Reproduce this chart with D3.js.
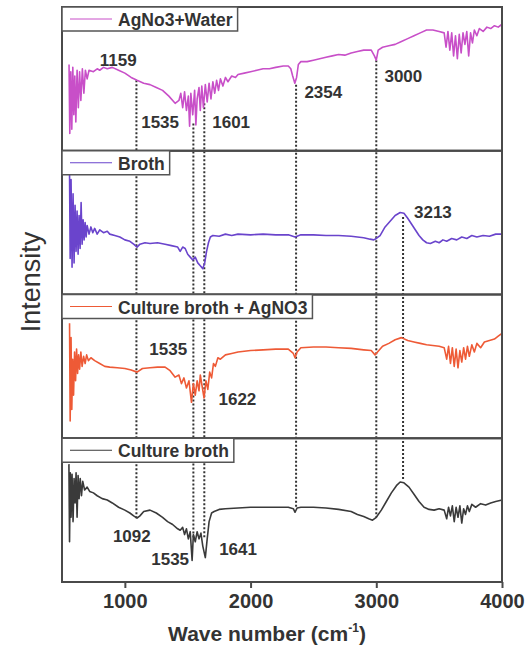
<!DOCTYPE html>
<html>
<head>
<meta charset="utf-8">
<script src="https://cdn.jsdelivr.net/npm/d3@7"></script>
<style>
  body { margin: 0; background: #fff; }
  text { font-family: Arial, "Liberation Sans", sans-serif; }
</style>
</head>
<body>
<script>
// spectra: [wave number, intensity (0-100 inside its own panel)]
const agWater = [
  [556, 60], [562, 12], [570, 55], [578, 15], [586, 58], [594, 25], [602, 52], [610, 20],
  [620, 56], [630, 30], [640, 55], [650, 35], [662, 57], [674, 40], [686, 56], [700, 50],
  [715, 56], [750, 55], [780, 57], [800, 56], [830, 58], [860, 57], [900, 58], [950, 56],
  [1000, 54], [1050, 51], [1097, 49], [1150, 47], [1200, 46], [1250, 44], [1300, 42],
  [1350, 38], [1400, 33], [1430, 35], [1445, 40], [1460, 30], [1475, 41], [1490, 28],
  [1505, 38], [1515, 17], [1525, 40], [1540, 25], [1555, 42], [1565, 18], [1575, 36],
  [1590, 44], [1600, 28], [1612, 45], [1625, 30], [1640, 46], [1655, 34], [1670, 47],
  [1685, 36], [1700, 48], [1715, 40], [1730, 49], [1745, 42], [1760, 50], [1780, 45],
  [1800, 51], [1820, 48], [1850, 52], [1880, 51], [1900, 53], [1950, 54], [2000, 55],
  [2050, 56], [2100, 57], [2150, 57], [2200, 58], [2260, 59], [2300, 59], [2320, 57],
  [2335, 52], [2352, 47], [2366, 51], [2380, 60], [2400, 62], [2450, 62], [2500, 63],
  [2550, 64], [2600, 65], [2650, 66], [2700, 67], [2750, 66.5], [2800, 68], [2850, 69],
  [2900, 70], [2960, 70], [2985, 66], [3000, 63], [3015, 70], [3050, 72], [3100, 73],
  [3150, 74], [3200, 76], [3250, 78], [3300, 80], [3350, 82], [3400, 84], [3450, 84],
  [3500, 83], [3540, 82], [3555, 72], [3570, 83], [3585, 70], [3600, 82], [3615, 66],
  [3630, 80], [3645, 64], [3660, 81], [3675, 68], [3690, 82], [3705, 74], [3720, 83],
  [3735, 66], [3750, 82], [3765, 75], [3780, 84], [3800, 80], [3820, 85], [3850, 83],
  [3880, 86], [3910, 85], [3940, 87], [3970, 86], [4000, 88]
];

const broth = [
  [560, 84], [565, 25], [572, 80], [580, 19], [588, 70], [596, 22], [604, 62], [612, 30],
  [620, 58], [628, 28], [636, 55], [644, 32], [652, 64], [660, 35], [668, 52], [676, 38],
  [684, 50], [692, 40], [700, 48], [715, 42], [730, 47], [745, 43], [760, 46], [780, 42],
  [800, 45], [830, 43], [860, 44], [880, 42], [920, 41], [960, 40], [1000, 38], [1040, 37],
  [1070, 35], [1097, 33], [1120, 35], [1160, 36], [1200, 35.5], [1260, 36], [1320, 35],
  [1370, 34], [1420, 33], [1440, 30], [1460, 33], [1480, 32], [1500, 28], [1520, 26],
  [1540, 24], [1560, 26], [1580, 22], [1600, 20], [1620, 18], [1635, 22], [1650, 30],
  [1665, 36], [1680, 40], [1700, 41], [1750, 40.5], [1800, 42], [1850, 41], [1900, 42],
  [2000, 41.5], [2100, 42], [2200, 41.5], [2300, 41.5], [2354, 40], [2400, 41.5],
  [2500, 41.5], [2600, 41], [2700, 41], [2800, 40.5], [2900, 39.5], [2950, 38.5],
  [2980, 38], [3000, 39], [3030, 41], [3070, 47], [3110, 51], [3150, 55], [3190, 57],
  [3220, 56.5], [3250, 53], [3280, 49], [3310, 45], [3340, 41], [3370, 38], [3400, 36],
  [3430, 35.5], [3470, 37], [3500, 36], [3530, 38], [3560, 37], [3600, 39], [3640, 38],
  [3680, 40], [3720, 39], [3760, 41], [3800, 40], [3850, 41], [3900, 40.5], [3950, 42],
  [4000, 42]
];

const cultureAg = [
  [560, 80], [565, 12], [572, 70], [578, 20], [585, 55], [592, 30], [600, 60], [608, 40],
  [616, 62], [624, 45], [632, 58], [640, 48], [650, 60], [660, 50], [672, 57], [684, 52],
  [696, 58], [710, 54], [730, 56], [760, 54], [800, 52], [840, 50], [880, 49.5], [940, 49],
  [1000, 48.5], [1050, 47.5], [1097, 46], [1140, 48.5], [1200, 49], [1260, 49.5],
  [1320, 49.5], [1360, 47], [1400, 42.5], [1430, 44], [1450, 38], [1470, 42], [1490, 35],
  [1510, 40], [1530, 25], [1545, 38], [1560, 30], [1575, 40], [1590, 33], [1600, 44],
  [1615, 36], [1630, 28], [1645, 40], [1660, 34], [1675, 46], [1690, 42], [1705, 52],
  [1720, 50], [1740, 56], [1760, 55], [1800, 58], [1850, 59], [1900, 60], [2000, 61],
  [2100, 61.5], [2200, 62], [2300, 62], [2340, 59], [2354, 56], [2370, 60], [2400, 63],
  [2500, 63.5], [2600, 63.5], [2700, 63], [2800, 62.5], [2900, 61.5], [2960, 61],
  [2990, 58], [3010, 60], [3050, 64], [3100, 66], [3150, 68.5], [3200, 70], [3250, 68],
  [3300, 67], [3350, 66], [3400, 65], [3450, 64.5], [3500, 64], [3540, 63], [3560, 55],
  [3575, 64], [3590, 52], [3605, 63], [3620, 50], [3635, 62], [3650, 49], [3665, 61],
  [3680, 53], [3695, 63], [3710, 55], [3725, 64], [3740, 57], [3760, 65], [3780, 60],
  [3800, 66], [3830, 63], [3860, 67], [3900, 68], [3940, 69], [3970, 71], [4000, 73]
];

const culture = [
  [555, 82], [560, 28], [566, 76], [572, 45], [580, 75], [588, 42], [596, 72], [604, 55],
  [612, 76], [620, 45], [628, 74], [636, 58], [645, 72], [655, 60], [665, 70], [680, 64],
  [700, 66], [720, 63], [750, 62], [780, 60], [820, 58], [860, 57], [900, 55], [950, 52],
  [1000, 50], [1040, 48], [1070, 46], [1097, 44.5], [1120, 46], [1150, 49], [1200, 50],
  [1250, 48], [1300, 45], [1340, 42], [1380, 40], [1420, 37], [1440, 36], [1460, 38],
  [1475, 33], [1490, 37], [1505, 30], [1520, 35], [1535, 15], [1545, 33], [1560, 28],
  [1575, 35], [1590, 30], [1605, 34], [1620, 25], [1640, 17], [1655, 30], [1670, 42],
  [1690, 48], [1710, 49], [1750, 50.5], [1800, 51], [1900, 51.5], [2000, 52], [2100, 52],
  [2200, 52], [2300, 52], [2340, 51], [2354, 48.5], [2370, 51.5], [2400, 52], [2500, 52],
  [2600, 51.5], [2700, 50.5], [2800, 49], [2850, 47], [2900, 45.5], [2940, 44], [2970, 43],
  [3000, 45], [3040, 50], [3080, 56], [3120, 62], [3160, 67], [3190, 69.6], [3220, 69],
  [3260, 66], [3300, 61], [3340, 56], [3380, 52], [3420, 50.5], [3460, 50], [3500, 51],
  [3540, 50], [3560, 44], [3575, 52], [3590, 46], [3605, 53], [3620, 42], [3635, 52],
  [3650, 45], [3665, 53], [3680, 41], [3695, 51], [3710, 47], [3725, 53], [3740, 49],
  [3760, 54], [3790, 52], [3830, 54.5], [3870, 53.5], [3910, 55], [3950, 56], [4000, 57]
];

const seriesNames = ['AgNo3+Water', 'Broth', 'Culture broth + AgNO3', 'Culture broth'];
const seriesData = [agWater, broth, cultureAg, culture];
const seriesColors = ['#c84fc8', '#6a44cc', '#ee5a36', '#3a3a3a'];
const xTicks = [1000, 2000, 3000, 4000];

// dotted guide lines: wave number, [panel, value] at top, [panel, value] at bottom
const guideWave = [1092, 1545, 1632, 2362, 3000, 3213];
const guideTop = [[0, 49], [0, 19], [0, 33], [0, 46], [0, 63], [1, 54]];
const guideBottom = [[3, 43], [3, 31], [3, 31], [3, 51.5], [3, 45], [3, 71]];

// peak labels: panel, text, wave number of left edge, value of baseline
const peakPanel = [0, 0, 0, 0, 0, 1, 2, 2, 3, 3, 3];
const peakText = ['1159', '1535', '1601', '2354', '3000', '3213', '1535', '1622', '1092', '1535', '1641'];
const peakWave = [800, 1130, 1695, 2428, 3065, 3300, 1195, 1745, 905, 1210, 1750];
const peakValue = [59, 15.5, 16, 37, 48, 53, 58, 23, 28, 12, 19];

const width = 530;
const height = 648;
const margin = { left: 62, top: 7, right: 28, bottom: 66 };
const plotW = width - margin.left - margin.right;
const plotH = height - margin.top - margin.bottom;
const panelH = plotH / 4;

const svg = d3.select('body').append('svg')
  .attr('width', width)
  .attr('height', height);

const xScale = d3.scaleLinear()
  .domain([500, 4000])
  .range([margin.left, margin.left + plotW]);

const yScales = seriesNames.map((n, i) => d3.scaleLinear()
  .domain([0, 100])
  .range([margin.top + panelH * (i + 1), margin.top + panelH * i]));

const py = (p) => yScales[p[0]](p[1]);

// guide lines under the spectra
svg.append('g')
  .selectAll('line')
  .data(guideWave)
  .enter()
  .append('line')
  .attr('x1', d => xScale(d))
  .attr('x2', d => xScale(d))
  .attr('y1', (d, i) => py(guideTop[i]))
  .attr('y2', (d, i) => py(guideBottom[i]))
  .attr('stroke', '#333')
  .attr('stroke-width', 2)
  .attr('stroke-dasharray', '2,2');

const line = d3.line()
  .x(d => xScale(d[0]));

seriesData.forEach((data, i) => {
  svg.append('path')
    .datum(data)
    .attr('fill', 'none')
    .attr('stroke', seriesColors[i])
    .attr('stroke-width', 1.6)
    .attr('stroke-linejoin', 'round')
    .attr('d', line.y(d => yScales[i](d[1])));
});

// panel frames
seriesNames.forEach((n, i) => {
  svg.append('rect')
    .attr('x', margin.left)
    .attr('y', margin.top + panelH * i)
    .attr('width', plotW)
    .attr('height', panelH)
    .attr('fill', 'none')
    .attr('stroke', '#4a4a4a')
    .attr('stroke-width', 2);
});

// legends
seriesNames.forEach((n, i) => {
  const top = margin.top + panelH * i;
  const g = svg.append('g');
  const box = g.append('rect')
    .attr('x', margin.left)
    .attr('y', top)
    .attr('height', 24)
    .attr('fill', '#fff')
    .attr('stroke', '#555')
    .attr('stroke-width', 1.5);
  g.append('line')
    .attr('x1', margin.left + 8)
    .attr('x2', margin.left + 50)
    .attr('y1', top + 12)
    .attr('y2', top + 12)
    .attr('stroke', seriesColors[i])
    .attr('stroke-width', 1);
  const t = g.append('text')
    .attr('x', margin.left + 56)
    .attr('y', top + 19)
    .attr('font-size', 17.5)
    .attr('font-weight', 'bold')
    .attr('fill', '#333')
    .text(n);
  box.attr('width', 56 + t.node().getComputedTextLength() + 5);
});

// peak labels
svg.append('g')
  .selectAll('text')
  .data(peakText)
  .enter()
  .append('text')
  .attr('x', (d, i) => xScale(peakWave[i]))
  .attr('y', (d, i) => yScales[peakPanel[i]](peakValue[i]))
  .attr('font-size', 17)
  .attr('font-weight', 'bold')
  .attr('fill', '#333')
  .text(d => d);

const xAxis = d3.axisBottom(xScale)
  .tickValues(xTicks)
  .tickFormat(d3.format('d'))
  .tickSize(6)
  .tickPadding(6);

const axisG = svg.append('g')
  .attr('transform', `translate(0, ${margin.top + plotH})`)
  .call(xAxis);

axisG.select('.domain').remove();
axisG.selectAll('line').attr('stroke', '#4a4a4a').attr('stroke-width', 2);
axisG.selectAll('text')
  .attr('font-size', 20)
  .attr('font-weight', 'bold')
  .attr('fill', '#333');

const xTitle = svg.append('text')
  .attr('x', 267)
  .attr('y', 641)
  .attr('text-anchor', 'middle')
  .attr('font-size', 21)
  .attr('font-weight', 'bold')
  .attr('fill', '#333');
xTitle.append('tspan').text('Wave number (cm');
xTitle.append('tspan').attr('font-size', 12).attr('dy', -9).text('-1');
xTitle.append('tspan').attr('dy', 9).text(')');

svg.append('text')
  .attr('transform', 'translate(40, 282) rotate(-90)')
  .attr('text-anchor', 'middle')
  .attr('font-size', 27)
  .attr('fill', '#333')
  .text('Intensity');
</script>
</body>
</html>
